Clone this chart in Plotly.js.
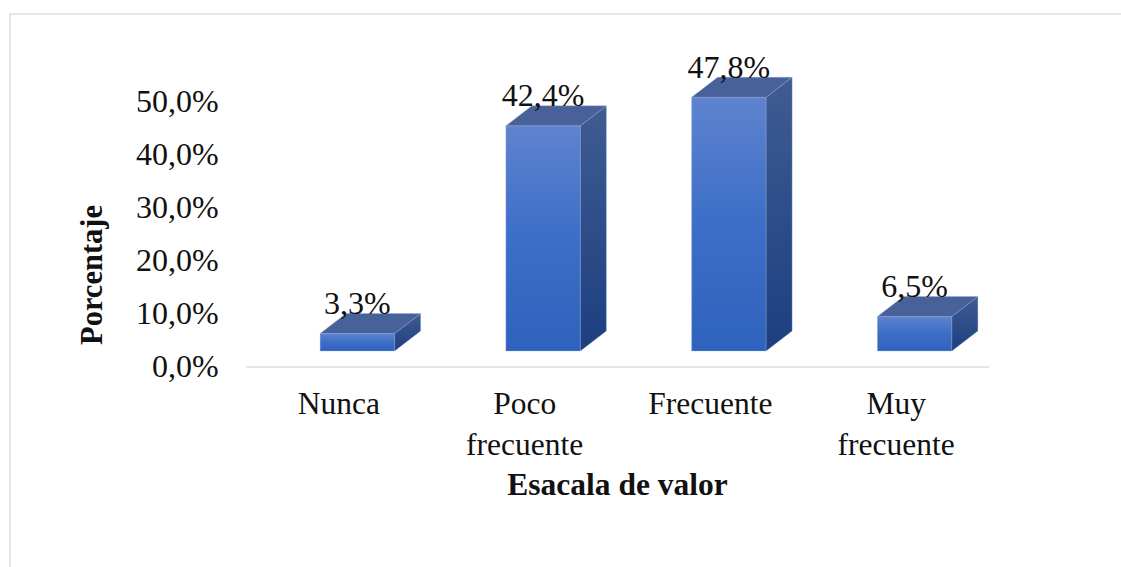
<!DOCTYPE html>
<html>
<head>
<meta charset="utf-8">
<script src="https://cdn.plot.ly/plotly-3.0.1.min.js"></script>
<style>html,body{margin:0;padding:0;background:#fff}#c{width:1121px;height:567px}</style>
</head>
<body>
<div id="c"></div>
<script>
const categories = ["Nunca", "Poco<br>frecuente", "Frecuente", "Muy<br>frecuente"];
const values = [3.3, 42.4, 47.8, 6.5];
const valueLabels = ["3,3%", "42,4%", "47,8%", "6,5%"];
const yTicks = [0, 10, 20, 30, 40, 50];
const yTickLabels = ["0,0%", "10,0%", "20,0%", "30,0%", "40,0%", "50,0%"];

const FONT = '"Liberation Serif","Times New Roman",serif';
const L = 246, R = 989, T = 43, B = 366, W = 1121, H = 567;
const pxPerY = 5.31, pxPerX = (R - L) / 4;
const base = 15 / pxPerY, dy = 20 / pxPerY, dx = 26 / pxPerX;
const barW = 74.5 / pxPerX, shift = 18.5 / pxPerX;

const traces = [];
const face = (xs, ys, opts) => Object.assign({
  type: 'scatter', mode: 'lines', x: xs, y: ys, fill: 'toself',
  line: {width: 0.6, color: 'rgba(150,172,222,0.55)'}, hoverinfo: 'skip', showlegend: false
}, opts);

values.forEach((v, i) => {
  const x0 = i + shift - barW / 2, x1 = i + shift + barW / 2, top = base + v;
  traces.push(face([x0, x1, x1, x0, x0], [base, base, top, top, base], {
    fillgradient: {type: 'vertical', colorscale: [[0, '#2F62BD'], [0.55, '#3F70C8'], [1, '#5F83CF']]}
  }));
  traces.push(face([x1, x1 + dx, x1 + dx, x1, x1], [base, base + dy, top + dy, top, base], {
    fillgradient: {type: 'vertical', colorscale: [[0, '#1D3F80'], [1, '#3F5C92']]}
  }));
  traces.push(face([x0, x1, x1 + dx, x0 + dx, x0], [top, top, top + dy, top + dy, top], {
    fillcolor: '#486299'
  }));
});

traces.push({
  type: 'scatter', mode: 'text',
  x: values.map((v, i) => i + shift),
  y: values.map(v => base + v + 27.5 / pxPerY),
  text: valueLabels, textposition: 'middle center',
  textfont: {family: FONT, size: 32, color: '#111'},
  cliponaxis: false, hoverinfo: 'skip', showlegend: false
});

const layout = {
  width: W, height: H, showlegend: false,
  paper_bgcolor: '#fff', plot_bgcolor: '#fff',
  margin: {l: L, r: W - R, t: T, b: H - B, pad: 0},
  font: {family: FONT, size: 32, color: '#111'},
  xaxis: {
    range: [-0.5, 3.5], tickvals: [0, 1, 2, 3], ticktext: categories,
    showgrid: false, zeroline: false, showline: true, linecolor: '#E3E6EE', linewidth: 2,
    ticks: 'outside', ticklen: 8, tickcolor: 'rgba(0,0,0,0)',
    tickfont: {family: FONT, size: 31.5, color: '#111'},
    title: {text: '<b>Esacala de valor</b>', font: {family: FONT, size: 31.5, color: '#111'}, standoff: 12}
  },
  yaxis: {
    range: [0, (B - T) / pxPerY], tickvals: yTicks, ticktext: yTickLabels,
    showgrid: false, zeroline: false, showline: false,
    ticks: 'outside', ticklen: 20, tickcolor: 'rgba(0,0,0,0)',
    tickfont: {family: FONT, size: 32, color: '#111'}
  },
  annotations: [{
    text: '<b>Porcentaje</b>', xref: 'paper', yref: 'paper',
    x: (92 - L) / (R - L), y: (B - 275) / (B - T), xanchor: 'center', yanchor: 'middle',
    textangle: -90, showarrow: false, font: {family: FONT, size: 30.5, color: '#111'}
  }],
  shapes: [{
    type: 'path', xref: 'paper', yref: 'paper', layer: 'below',
    path: `M ${(10 - L) / (R - L)} ${(B - 567) / (B - T)} L ${(10 - L) / (R - L)} ${(B - 14) / (B - T)} L ${(1121 - L) / (R - L)} ${(B - 14) / (B - T)}`,
    line: {color: '#E4E7EF', width: 2}
  }]
};
Plotly.newPlot('c', traces, layout, {displayModeBar: false, staticPlot: true});
</script>
</body>
</html>
